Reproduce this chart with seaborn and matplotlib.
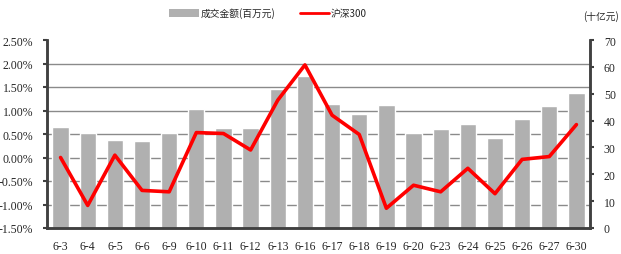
import numpy as np
import pandas as pd
import matplotlib
matplotlib.use("Agg")
import matplotlib.pyplot as plt
import seaborn as sns
from matplotlib.ticker import FuncFormatter, MultipleLocator
from matplotlib.patches import Patch
from matplotlib.lines import Line2D

dates = ["6-3", "6-4", "6-5", "6-6", "6-9", "6-10", "6-11", "6-12", "6-13", "6-16",
         "6-17", "6-18", "6-19", "6-20", "6-23", "6-24", "6-25", "6-26", "6-27", "6-30"]
volume = [37.7, 35.4, 32.8, 32.5, 35.4, 44.4, 37.3, 37.3, 51.9, 56.7,
          46.3, 42.5, 45.9, 35.4, 36.9, 38.8, 33.6, 40.7, 45.5, 50.4]
hs300 = [0.00, -1.02, 0.05, -0.70, -0.73, 0.53, 0.51, 0.16, 1.22, 1.97,
         0.90, 0.49, -1.08, -0.59, -0.73, -0.23, -0.77, -0.04, 0.02, 0.70]
bar_label = "成交金额(百万元)"
line_label = "沪深300"
right_unit = "(十亿元)"

sns.set_style("white")
plt.rcParams['font.serif'] = ['Liberation Serif', 'DejaVu Serif']
plt.rcParams['font.family'] = ['serif']
cjk = ['Noto Sans CJK SC', 'DejaVu Sans']

fig = plt.figure(figsize=(6.21, 2.55), dpi=100)
ax_bar = fig.add_axes([47/621, 1-229/255, (590-47)/621, (229-41)/255])

df = pd.DataFrame({"date": dates, "volume": volume, "hs300": hs300})
sns.barplot(data=df, x="date", y="volume", ax=ax_bar, color="#b0b0b0",
            width=0.6, saturation=1, zorder=2)

ax_line = ax_bar.twinx()
sns.lineplot(x=np.arange(len(dates)), y=df["hs300"], ax=ax_line, color="#ff0000",
             linewidth=2.6, zorder=3)

# bar axis (right)
ax_bar.set_ylim(0, 70)
ax_bar.set_xlim(-0.5, len(dates) - 0.5)
ax_bar.yaxis.set_major_locator(MultipleLocator(10))
ax_bar.yaxis.tick_right()
ax_bar.set_yticks(np.linspace(0, 70, 9), minor=True)
ax_bar.grid(which="minor", axis="y", color="#8a8a8a", linewidth=1.0, linestyle="-", zorder=0)
ax_bar.grid(which="major", axis="y", visible=False)
ax_bar.set_axisbelow(True)
ax_bar.set_xlabel("")
ax_bar.set_ylabel("")
ax_bar.tick_params(axis="y", which="major", direction="out", length=3, width=1.5,
                   color="#404040", labelsize=8.5, pad=7, right=True, left=False,
                   labelright=True, labelleft=False)
ax_bar.tick_params(axis="y", which="minor", length=0, left=False, right=False)
ax_bar.tick_params(axis="x", length=0, labelsize=8.5, pad=9)

# line axis (left)
ax_line.set_ylim(-1.5, 2.5)
ax_line.set_xlim(-0.5, len(dates) - 0.5)
ax_line.yaxis.tick_left()
ax_line.yaxis.set_major_locator(MultipleLocator(0.5))
ax_line.yaxis.set_major_formatter(FuncFormatter(lambda v, p: f"{v:.2f}%"))
ax_line.tick_params(axis="y", direction="out", length=3, width=1.5, color="#404040",
                    labelsize=8.5, pad=7, left=True, right=False,
                    labelleft=True, labelright=False)
ax_line.set_ylabel("")
ax_line.set_xlabel("")

for a in (ax_bar, ax_line):
    for s in ("left", "right", "bottom"):
        a.spines[s].set_visible(True)
        a.spines[s].set_color("#404040")
        a.spines[s].set_linewidth(1.8)
    a.spines["top"].set_visible(False)

handles = [Patch(facecolor="#b0b0b0", edgecolor="none", label=bar_label),
           Line2D([0], [0], color="#ff0000", linewidth=2, label=line_label)]
fig.legend(handles=handles, loc="center", bbox_to_anchor=(268/621, 1-14/255),
           ncol=2, frameon=False, prop={'family': cjk, 'size': 7},
           handlelength=3, handleheight=0.9, columnspacing=2.5, handletextpad=0.2)
fig.text(619/621, 1-17/255, right_unit, ha="right", va="center",
         family=cjk, fontsize=7)

fig.savefig("out.png", dpi=100)
